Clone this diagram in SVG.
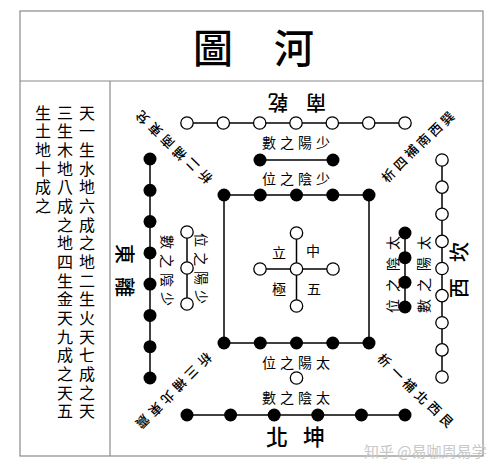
<svg xmlns="http://www.w3.org/2000/svg" width="500" height="472" viewBox="0 0 500 472">
<style>
.frame{fill:none;stroke:#8a8a8a;stroke-width:1.2}
.ln{stroke:#000;stroke-width:1.5;fill:none}
.o{fill:#fff;stroke:#000;stroke-width:1.3}
.b{fill:#000}
.t{font-family:"Noto Sans CJK TC","Noto Sans CJK SC",sans-serif;text-anchor:middle;dominant-baseline:central;fill:#000}
.s14{font-size:14px}
.s13{font-size:13px;font-weight:500}
.s16{font-size:16px}
.s20{font-size:20px;font-weight:500}
.s22{font-size:22px;font-weight:500}
.s40{font-size:40px;font-weight:500}
.wm{font-family:"Noto Sans CJK SC",sans-serif;font-size:15px;fill:#c8c8c8;dominant-baseline:central}
</style>
<rect width="500" height="472" fill="#fff"/>
<g id="frame">
<rect class="frame" x="20" y="11" width="463" height="445"/>
<line class="frame" x1="20" y1="81" x2="483" y2="81"/>
<line class="frame" x1="110" y1="81" x2="110" y2="456"/>
</g>
<g id="title">
<text class="t s40" x="213" y="46">圖</text>
<text class="t s40" x="294" y="46">河</text>
</g>
<g id="side-text">
<text class="t s16" x="87 87 87 87 87 87 87 87 87 87 87 87 87 87 87 87 87" y="111.7 130.4 149 167.7 186.4 205 223.7 242.4 261 279.7 298.4 317 335.7 354.4 373 391.7 410.4">天一生水地六成之地二生火天七成之天</text>
<text class="t s16" x="65 65 65 65 65 65 65 65 65 65 65 65 65 65 65 65 65" y="111.7 130.4 149 167.7 186.4 205 223.7 242.4 261 279.7 298.4 317 335.7 354.4 373 391.7 410.4">三生木地八成之地四生金天九成之天五</text>
<text class="t s16" x="43 43 43 43 43 43" y="111.7 130.4 149 167.7 186.4 205">生土地十成之</text>
</g>
<g id="connectors">
<line class="ln" x1="187" y1="123" x2="405" y2="123"/>
<line class="ln" x1="260" y1="160" x2="333" y2="160"/>
<rect class="ln" x="224" y="195" width="145" height="148"/>
<line class="ln" x1="260" y1="269" x2="333" y2="269"/>
<line class="ln" x1="296.5" y1="233" x2="296.5" y2="306"/>
<line class="ln" x1="150" y1="159" x2="150" y2="378"/>
<line class="ln" x1="187" y1="232" x2="187" y2="304"/>
<line class="ln" x1="442" y1="160" x2="442" y2="377"/>
<line class="ln" x1="405" y1="233" x2="405" y2="307"/>
<line class="ln" x1="187" y1="415" x2="405" y2="415"/>
</g>
<g id="south-outer">
<circle class="o" cx="187" cy="123" r="6.2"/>
<circle class="o" cx="223.3" cy="123" r="6.2"/>
<circle class="o" cx="259.7" cy="123" r="6.2"/>
<circle class="o" cx="296" cy="123" r="6.2"/>
<circle class="o" cx="332.3" cy="123" r="6.2"/>
<circle class="o" cx="368.7" cy="123" r="6.2"/>
<circle class="o" cx="405" cy="123" r="6.2"/>
</g>
<g id="south-inner">
<circle class="b" cx="260" cy="160" r="6.5"/>
<circle class="b" cx="333" cy="160" r="6.5"/>
</g>
<g id="center-ten">
<circle class="b" cx="224" cy="195" r="6.5"/>
<circle class="b" cx="260.25" cy="195" r="6.5"/>
<circle class="b" cx="296.5" cy="195" r="6.5"/>
<circle class="b" cx="332.75" cy="195" r="6.5"/>
<circle class="b" cx="369" cy="195" r="6.5"/>
<circle class="b" cx="224" cy="343" r="6.5"/>
<circle class="b" cx="260.25" cy="343" r="6.5"/>
<circle class="b" cx="296.5" cy="343" r="6.5"/>
<circle class="b" cx="332.75" cy="343" r="6.5"/>
<circle class="b" cx="369" cy="343" r="6.5"/>
</g>
<g id="center-five">
<circle class="o" cx="296.5" cy="269" r="6.2"/>
<circle class="o" cx="296.5" cy="233" r="6.2"/>
<circle class="o" cx="296.5" cy="306" r="6.2"/>
<circle class="o" cx="260" cy="269" r="6.2"/>
<circle class="o" cx="333" cy="269" r="6.2"/>
</g>
<g id="east-outer">
<circle class="b" cx="150" cy="159" r="6.5"/>
<circle class="b" cx="150" cy="190.3" r="6.5"/>
<circle class="b" cx="150" cy="221.6" r="6.5"/>
<circle class="b" cx="150" cy="252.9" r="6.5"/>
<circle class="b" cx="150" cy="284.1" r="6.5"/>
<circle class="b" cx="150" cy="315.4" r="6.5"/>
<circle class="b" cx="150" cy="346.7" r="6.5"/>
<circle class="b" cx="150" cy="378" r="6.5"/>
</g>
<g id="east-inner">
<circle class="o" cx="187" cy="232" r="6.2"/>
<circle class="o" cx="187" cy="268" r="6.2"/>
<circle class="o" cx="187" cy="304" r="6.2"/>
</g>
<g id="west-outer">
<circle class="o" cx="442" cy="160" r="6.2"/>
<circle class="o" cx="442" cy="187.1" r="6.2"/>
<circle class="o" cx="442" cy="214.25" r="6.2"/>
<circle class="o" cx="442" cy="241.4" r="6.2"/>
<circle class="o" cx="442" cy="268.5" r="6.2"/>
<circle class="o" cx="442" cy="295.6" r="6.2"/>
<circle class="o" cx="442" cy="322.75" r="6.2"/>
<circle class="o" cx="442" cy="349.9" r="6.2"/>
<circle class="o" cx="442" cy="377" r="6.2"/>
</g>
<g id="west-inner">
<circle class="b" cx="405" cy="233" r="6.5"/>
<circle class="b" cx="405" cy="257.7" r="6.5"/>
<circle class="b" cx="405" cy="282.3" r="6.5"/>
<circle class="b" cx="405" cy="307" r="6.5"/>
</g>
<g id="north-inner">
<circle class="o" cx="296.5" cy="378" r="6.2"/>
</g>
<g id="north-outer">
<circle class="b" cx="187" cy="415" r="6.5"/>
<circle class="b" cx="230.6" cy="415" r="6.5"/>
<circle class="b" cx="274.2" cy="415" r="6.5"/>
<circle class="b" cx="317.8" cy="415" r="6.5"/>
<circle class="b" cx="361.4" cy="415" r="6.5"/>
<circle class="b" cx="405" cy="415" r="6.5"/>
</g>
<g id="labels">
<text class="t s20" x="278" y="103" transform="rotate(180 278 103)">乾</text>
<text class="t s20" x="316" y="103" transform="rotate(180 316 103)">南</text>
<text class="t s22" x="277" y="435">北</text>
<text class="t s22" x="314" y="435">坤</text>
<text class="t s20" x="125" y="254" transform="rotate(90 125 254)">東</text>
<text class="t s20" x="125" y="287" transform="rotate(90 125 287)">離</text>
<text class="t s20" x="458" y="252" transform="rotate(-90 458 252)">坎</text>
<text class="t s20" x="458" y="288" transform="rotate(-90 458 288)">西</text>
<text class="t s14" x="269 287 305 323" y="142">數之陽少</text>
<text class="t s14" x="269 287 305 323" y="178">位之陰少</text>
<text class="t s14" x="269 287 305 323" y="362">位之陽太</text>
<text class="t s14" x="269 287 305 323" y="397">數之陰太</text>
<text class="t s14" x="279" y="252">立</text>
<text class="t s14" x="313" y="250">中</text>
<text class="t s14" x="279" y="288">極</text>
<text class="t s14" x="314" y="288">五</text>
<text class="t s14" x="202" y="240" transform="rotate(90 202 240)">位</text>
<text class="t s14" x="202" y="259" transform="rotate(90 202 259)">之</text>
<text class="t s14" x="202" y="278" transform="rotate(90 202 278)">陽</text>
<text class="t s14" x="202" y="297" transform="rotate(90 202 297)">少</text>
<text class="t s14" x="168" y="242" transform="rotate(90 168 242)">數</text>
<text class="t s14" x="168" y="261" transform="rotate(90 168 261)">之</text>
<text class="t s14" x="168" y="280" transform="rotate(90 168 280)">陰</text>
<text class="t s14" x="168" y="299" transform="rotate(90 168 299)">少</text>
<text class="t s14" x="392" y="243" transform="rotate(-90 392 243)">太</text>
<text class="t s14" x="392" y="264" transform="rotate(-90 392 264)">陰</text>
<text class="t s14" x="392" y="285" transform="rotate(-90 392 285)">之</text>
<text class="t s14" x="392" y="306" transform="rotate(-90 392 306)">位</text>
<text class="t s14" x="423" y="243" transform="rotate(-90 423 243)">太</text>
<text class="t s14" x="423" y="264" transform="rotate(-90 423 264)">陽</text>
<text class="t s14" x="423" y="285" transform="rotate(-90 423 285)">之</text>
<text class="t s14" x="423" y="306" transform="rotate(-90 423 306)">數</text>
</g>
<g id="diagonal-labels">
<text class="t s13" x="205" y="177" transform="rotate(225 205 177)">析</text>
<text class="t s13" x="192" y="165" transform="rotate(225 192 165)">二</text>
<text class="t s13" x="179" y="154" transform="rotate(225 179 154)">補</text>
<text class="t s13" x="167" y="142" transform="rotate(225 167 142)">南</text>
<text class="t s13" x="155" y="130" transform="rotate(225 155 130)">東</text>
<text class="t s13" x="142" y="118" transform="rotate(225 142 118)">兌</text>
<text class="t s13" x="388" y="175" transform="rotate(-45 388 175)">析</text>
<text class="t s13" x="400" y="163" transform="rotate(-45 400 163)">四</text>
<text class="t s13" x="411" y="151" transform="rotate(-45 411 151)">補</text>
<text class="t s13" x="423" y="140" transform="rotate(-45 423 140)">南</text>
<text class="t s13" x="435" y="129" transform="rotate(-45 435 129)">西</text>
<text class="t s13" x="447" y="118" transform="rotate(-45 447 118)">巽</text>
<text class="t s13" x="205" y="360" transform="rotate(135 205 360)">析</text>
<text class="t s13" x="192" y="373" transform="rotate(135 192 373)">三</text>
<text class="t s13" x="180" y="385" transform="rotate(135 180 385)">補</text>
<text class="t s13" x="168" y="398" transform="rotate(135 168 398)">北</text>
<text class="t s13" x="156" y="410" transform="rotate(135 156 410)">東</text>
<text class="t s13" x="143" y="422" transform="rotate(135 143 422)">震</text>
<text class="t s13" x="385" y="360" transform="rotate(45 385 360)">析</text>
<text class="t s13" x="398" y="373" transform="rotate(45 398 373)">一</text>
<text class="t s13" x="410" y="385" transform="rotate(45 410 385)">補</text>
<text class="t s13" x="422" y="397" transform="rotate(45 422 397)">北</text>
<text class="t s13" x="435" y="408" transform="rotate(45 435 408)">西</text>
<text class="t s13" x="447" y="420" transform="rotate(45 447 420)">艮</text>
</g>
<text class="wm" x="364" y="450">知乎 @易咖周易学</text>
</svg>
